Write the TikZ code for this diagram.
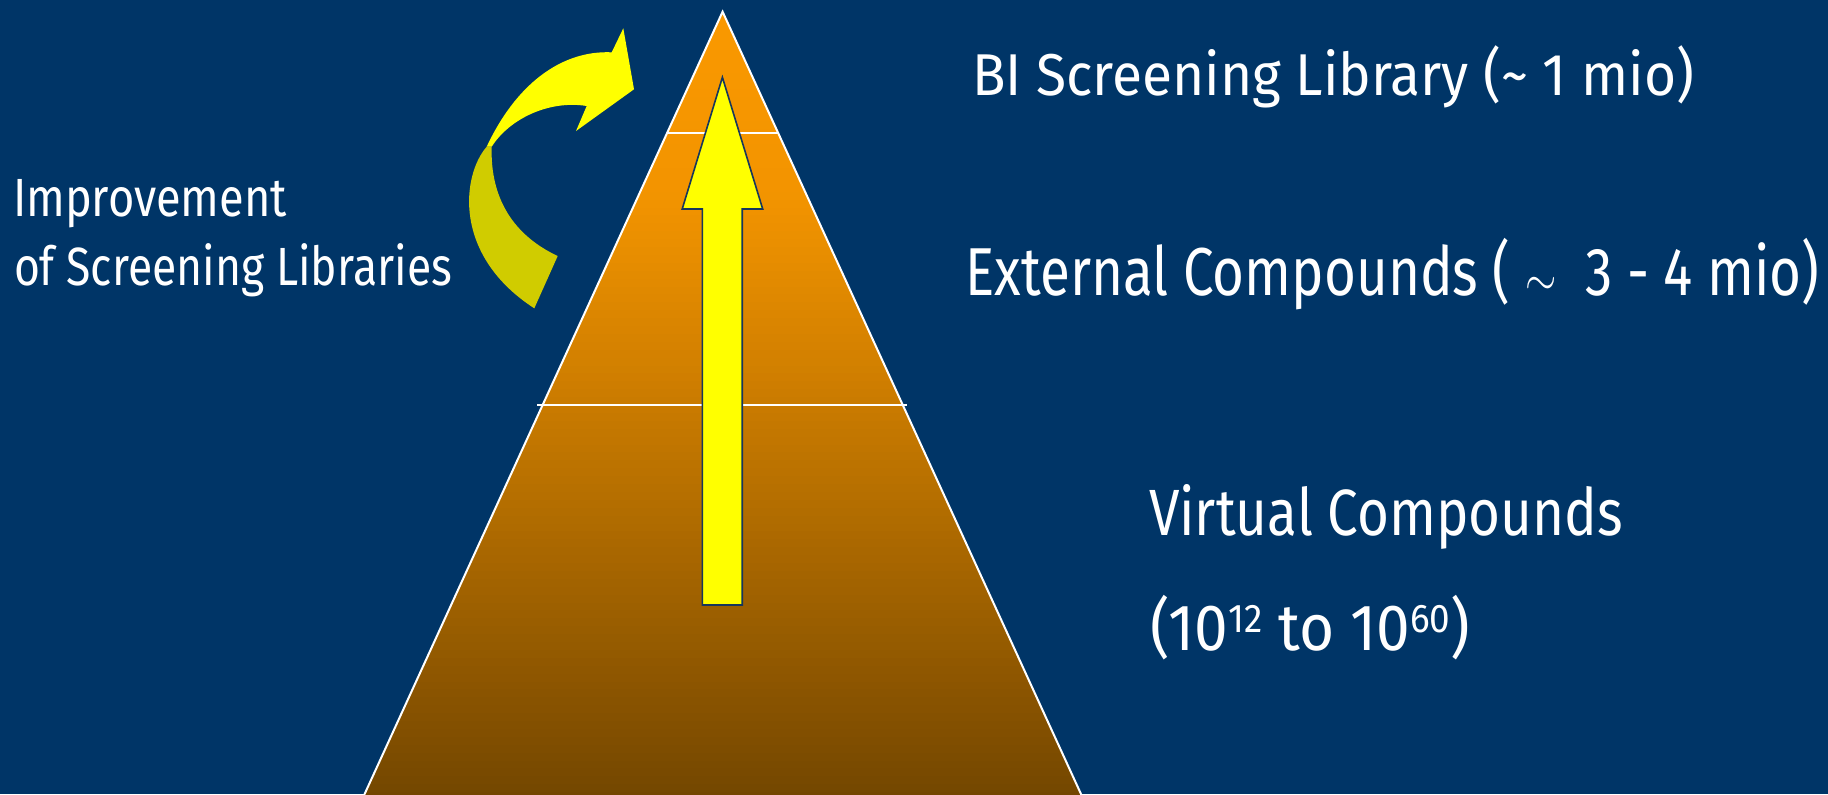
\documentclass[tikz,border=0pt]{standalone}
\usepackage{fontspec}
\setmainfont{Fira Sans}
\usepackage{graphicx}

\definecolor{bg}{RGB}{0,53,103}
\definecolor{arrowyellow}{RGB}{255,255,0}
\definecolor{arrowolive}{RGB}{208,204,0}
\definecolor{outlinenavy}{RGB}{22,54,92}

% set a line at a given size, stretched/condensed to a given width
\newcommand{\fitline}[3]{{\fontsize{#1}{#1}\selectfont\resizebox{#2}{\height}{#3}}}
\newcommand{\powten}[1]{10\raisebox{9pt}{\fontsize{20}{22}\selectfont #1}}

\begin{document}
\begin{tikzpicture}[x=0.5pt,y=-0.5pt,
  caption/.style={anchor=base west,inner sep=0pt,outer sep=0pt,text=white},
  edgeline/.style={draw=white,line width=1pt},
  uparrow/.style={fill=arrowyellow,draw=outlinenavy,line width=0.8pt,line join=miter}]

% background
\fill[bg] (0,0) rectangle (1828,794);
\useasboundingbox (0,0) rectangle (1828,794);

% pyramid corners
\coordinate (apex) at (722.6,11.7);
\coordinate (bl) at (363.7,796);
\coordinate (br) at (1081.9,796);

% pyramid body with vertical orange-to-brown gradient
\begin{scope}
  \clip (apex) -- (bl) -- (br) -- cycle;
  \foreach \i in {0,...,99}{
    \pgfmathsetmacro\ya{10+\i*7.9}
    \pgfmathsetmacro\ym{\ya+3.95}
    \pgfmathsetmacro\rr{(\ym<200 ? 250-(8/188)*(\ym-12) : (\ym<380 ? 242-(35/180)*(\ym-200) : 207-(91/414)*(\ym-380)))/255}
    \pgfmathsetmacro\gg{0.61*\rr}
    \definecolor{band}{rgb}{\rr,\gg,0}
    \fill[band] (300,\ya) rectangle (1100,\ya+8.6);
  }
\end{scope}

% pyramid outline and level separators
\draw[edgeline] (bl) -- (apex) -- (br);
\coordinate (s1l) at (666.8,132.5);
\coordinate (s1r) at (777.6,132.5);
\coordinate (s2l) at (537.4,404.5);
\coordinate (s2r) at (907.0,404.5);
\draw[edgeline] (s1l) -- (s1r);
\draw[edgeline] (s2l) -- (s2r);

% upward arrow inside the pyramid
\draw[uparrow] (722.4,77.3) -- (762.7,209) -- (742.2,209) -- (742.2,605)
  -- (702.4,605) -- (702.4,209) -- (682.2,209) -- cycle;

% curved improvement arrow: lower (darker) limb
\fill[arrowolive] (486.7,146.7) .. controls (462,175) and (452,255) .. (534.3,308.3)
  -- (557.7,256) .. controls (515,236) and (490,200) .. (491.7,146.7) -- cycle;
% curved improvement arrow: upper limb with head
\fill[arrowyellow] (486.7,146.7) .. controls (515,86) and (560,50) .. (611.7,52.3)
  -- (623.3,28.3) -- (634,89.3) -- (576,131) -- (586.7,106)
  .. controls (550,100) and (510,118) .. (491.7,146.7) -- cycle;

% labels
\node[caption] (bilib) at (972,95)
  {\fitline{29.5}{361pt}{BI Screening Library (\textasciitilde{} 1 mio)}};
\node[caption] (extcomp) at (965.5,295)
  {\fitline{33.9}{427pt}{External Compounds ( $\sim$\ \ 3 - 4 mio)}};
\node[caption] (virtcomp) at (1149,535)
  {\fitline{32.7}{237pt}{Virtual Compounds}};
\node[caption] (virtrange) at (1150,650)
  {\fitline{32.7}{160pt}{(\powten{12} to \powten{60})}};
\node[caption] (improve1) at (13,216.7)
  {\fitline{26.9}{137pt}{Improvement}};
\node[caption] (improve2) at (14,285)
  {\fitline{26.9}{219pt}{of Screening Libraries}};

\end{tikzpicture}
\end{document}
